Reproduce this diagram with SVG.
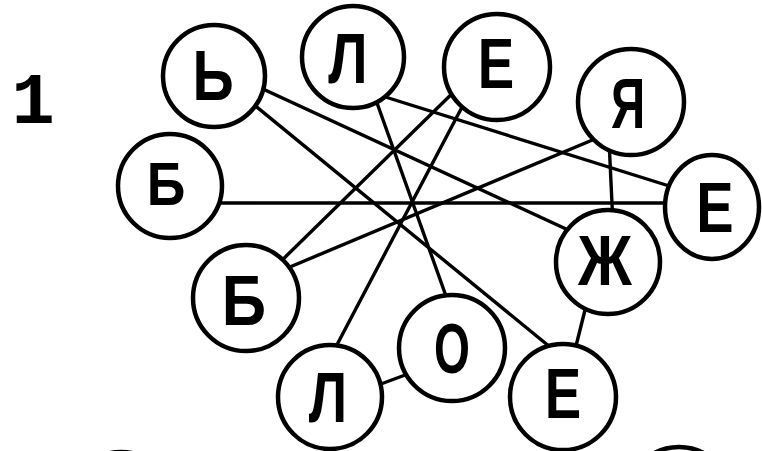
<svg xmlns="http://www.w3.org/2000/svg" width="762" height="451" viewBox="0 0 762 451">
<style>
.c{fill:#fff;stroke:#000;stroke-width:4.5}
.l{stroke:#000;stroke-width:3.4;stroke-linecap:round;fill:none}
.t{font-family:"Liberation Sans","DejaVu Sans",sans-serif;font-weight:bold;font-size:70px;text-anchor:middle;fill:#000}
</style>
<rect width="762" height="451" fill="#fff"/>
<text x="33" y="123" style="font-family:'Liberation Mono','DejaVu Sans Mono',monospace;font-weight:bold;font-size:72px;text-anchor:middle">1</text>
<g id="connectors">
<line class="l" x1="248" y1="82" x2="579" y2="235"/>
<line class="l" x1="242" y1="95" x2="561" y2="356"/>
<line class="l" x1="207" y1="203" x2="683" y2="203"/>
<line class="l" x1="372" y1="89" x2="451" y2="310"/>
<line class="l" x1="379" y1="95" x2="682" y2="190"/>
<line class="l" x1="466" y1="80" x2="272" y2="270"/>
<line class="l" x1="471" y1="90" x2="330" y2="358"/>
<line class="l" x1="602" y1="136" x2="278" y2="272"/>
<line class="l" x1="609" y1="140" x2="613" y2="225"/>
<line class="l" x1="588" y1="298" x2="573" y2="358"/>
<line class="l" x1="370" y1="388" x2="416" y2="371"/>
</g>
<g id="n-soft"><circle class="c" cx="214" cy="76" r="51"/><text class="t" transform="translate(213,100) scale(0.82,1)">Ь</text></g>
<g id="n-l1"><circle class="c" cx="353" cy="57" r="51"/><text class="t" transform="translate(348,83) scale(0.8,1)">Л</text></g>
<g id="n-e1"><circle class="c" cx="497" cy="67" r="53"/><text class="t" transform="translate(496,88) scale(0.78,1)">Е</text></g>
<g id="n-ya"><circle class="c" cx="631" cy="102" r="53"/><text class="t" transform="translate(628,128) scale(0.68,1)">Я</text></g>
<g id="n-b1"><circle class="c" cx="170" cy="186" r="52"/><text class="t" style="font-size:61px" transform="translate(166,205) scale(0.88,1)">Б</text></g>
<g id="n-e2"><ellipse class="c" cx="712" cy="207" rx="47" ry="52"/><text class="t" transform="translate(715,232) scale(0.8,1)">Е</text></g>
<g id="n-zh"><circle class="c" cx="608" cy="262" r="52"/><text class="t" transform="translate(605,285) scale(0.85,1)">Ж</text></g>
<g id="n-b2"><circle class="c" cx="246" cy="298" r="53"/><text class="t" transform="translate(244,325) scale(0.88,1)">Б</text></g>
<g id="n-o"><circle class="c" cx="452" cy="348" r="53"/><text class="t" transform="translate(452,373) scale(0.66,1)">О</text></g>
<g id="n-l2"><circle class="c" cx="330" cy="397" r="52"/><text class="t" transform="translate(328,422) scale(0.78,1)">Л</text></g>
<g id="n-e3"><circle class="c" cx="563" cy="397" r="53"/><text class="t" transform="translate(563,418) scale(0.78,1)">Е</text></g>
<circle class="c" cx="121" cy="504" r="52"/>
<circle class="c" cx="679" cy="499" r="52"/>
</svg>
